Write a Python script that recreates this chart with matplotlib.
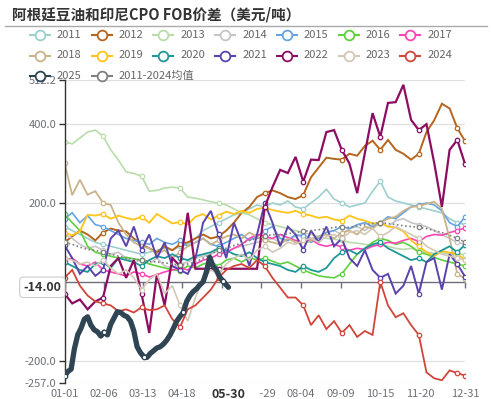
import numpy as np
import matplotlib
matplotlib.use('Agg')
import matplotlib.pyplot as plt
import matplotlib.transforms as mtransforms
from matplotlib.lines import Line2D
from matplotlib.patches import Rectangle

plt.rcParams['font.family'] = ['Noto Sans CJK SC', 'DejaVu Sans']

# ---------------- data ----------------
title = '阿根廷豆油和印尼CPO FOB价差（美元/吨）'
days_weekly = np.arange(0, 365, 7)            # 01-01 ... 12-31, weekly
days_2025 = list(range(0, 150, 3)) + [149]    # 01-01 ... 05-30

s2011 = [140, 130, 120, 110, 100, 95, 90, 85, 80, 75, 70, 75, 80, 85, 80, 90, 95, 110, 130, 140,
         150, 160, 170, 175, 185, 195, 190, 200, 195, 205, 190, 185, 200, 215, 235, 210, 200, 190, 195, 200,
         230, 255, 215, 205, 200, 195, 190, 185, 180, 175, 160, 150, 145]
s2012 = [100, 115, 130, 120, 105, 125, 135, 130, 128, 110, 95, 85, 75, 90, 80, 95, 100, 110, 120, 110,
         115, 130, 150, 175, 190, 215, 225, 232, 225, 215, 210, 220, 265, 290, 315, 312, 310, 325, 320, 345,
         358, 335, 360, 335, 325, 310, 325, 380, 410, 452, 440, 390, 357]
s2013 = [355, 350, 365, 380, 385, 370, 335, 309, 279, 275, 268, 230, 232, 238, 240, 238, 215, 212, 208, 203,
         200, 195, 185, 175, 170, 160, 150, 145, 140, 135, 130, 125, 120, 115, 110, 108, 105, 100, 98, 95,
         92, 95, 90, 85, 82, 85, 78, 75, 72, 74, 70, 72, 68]
s2014 = [120, 110, 95, 85, 90, 80, 70, 75, 60, 50, 55, 45, 60, 40, 35, 45, 50, 60, 65, 70,
         80, 75, 85, 90, 95, 100, 105, 110, 100, 105, 115, 120, 110, 115, 125, 130, 120, 135, 140, 130,
         145, 150, 140, 155, 160, 150, 145, 140, 130, 120, 110, 100, 95]
s2015 = [160, 175, 150, 168, 145, 140, 130, 120, 110, 105, 100, 95, 110, 100, 95, 105, 90, 100, 110, 95,
         90, 100, 110, 120, 105, 115, 130, 140, 110, 105, 120, 115, 100, 110, 125, 130, 140, 135, 145, 150,
         140, 150, 165, 160, 175, 190, 195, 200, 195, 180, 150, 140, 165]
s2016 = [172, 150, 130, 90, 75, 70, 65, 60, 62, 58, 55, 45, 40, 35, 30, 28, 40, 35, 45, 50,
         40, 55, 60, 50, 62, 55, 60, 52, 45, 50, 40, 30, 22, 15, 12, 10, 20, 45, 70, 85,
         100, 110, 105, 95, 100, 90, 75, 70, 62, 55, 50, 45, 40]
s2017 = [56, 60, 45, 40, 50, 30, 25, 20, 15, 25, 20, 12, 18, 25, 30, 35, 30, 45, 55, 60,
         70, 75, 85, 95, 110, 120, 115, 110, 120, 112, 105, 100, 108, 95, 90, 95, 88, 80, 85, 82,
         90, 95, 100, 98, 105, 110, 102, 115, 120, 118, 125, 130, 137]
s2018 = [302, 220, 259, 221, 230, 200, 195, 150, 120, 100, 90, 85, 70, 80, 60, 75, 90, 100, 110, 95,
         105, 115, 120, 110, 125, 115, 105, 100, 95, 110, 100, 95, 105, 115, 120, 110, 125, 130, 120, 140,
         135, 150, 160, 165, 180, 190, 192, 198, 203, 185, 110, 20, 8]
s2019 = [124, 118, 128, 170, 168, 172, 160, 168, 162, 158, 165, 150, 172, 160, 148, 152, 145, 165, 172, 158,
         168, 178, 172, 180, 175, 185, 188, 182, 178, 175, 180, 172, 168, 162, 165, 158, 155, 168, 160, 155,
         148, 150, 140, 138, 128, 105, 90, 75, 65, 78, 74, 70, 56]
s2020 = [50, 40, 30, 25, 45, 50, 35, 60, 55, 50, 40, 55, 65, 60, 70, 60, 55, 65, 70, 75,
         85, 80, 70, 65, 75, 60, 50, 45, 40, 30, 25, 40, 30, 25, 35, 60, 75, 80, 70, 85,
         95, 100, 85, 75, 65, 55, 60, 50, 70, 80, 90, 75, 94]
s2021 = [93, 60, 20, 40, 15, 30, 110, 130, 90, 140, 80, 120, 60, 100, 40, 30, 20, 60, 150, 180,
         120, 60, 150, 100, 40, 120, 200, 150, 90, 140, 120, 80, 130, 100, 140, 90, 110, 60, 40, 80,
         30, 10, 20, -30, -10, 40, -30, 50, 60, -20, 70, 45, 13]
s2022 = [-30, -55, -45, -70, -50, -40, 40, 60, 10, 55, -30, -130, 20, -60, 60, 40, 175, 33, 33, 33,
         33, 33, 33, 33, 33, 33, 190, 240, 284, 276, 317, 254, 310, 309, 380, 385, 335, 300, 225, 327,
         428, 368, 454, 456, 500, 411, 385, 400, 302, 190, 335, 360, 299]
s2023 = [60, 55, 45, 50, 40, 55, 35, 20, 30, 10, -20, 5, 20, -30, -10, -60, -100, -40, 10, 30,
         20, 45, 60, 70, 55, 80, 90, 75, 85, 100, 95, 105, 110, 100, 115, 120, 110, 125, 130, 120,
         135, 115, 125, 140, 130, 120, 110, 90, 80, 70, 65, 60, 55]
s2024 = [10, 30, -10, -35, -50, -55, -60, -75, -70, -78, -65, -72, -70, -60, -95, -115, -70, -60, -40, -20,
         10, 30, 40, 45, 35, 55, 40, 10, -15, -40, -40, -60, -110, -85, -120, -100, -130, -110, -140, -125,
         -135, 0, -60, -90, -80, -110, -135, -230, -245, -250, -225, -232, -238]
s_mean = [100, 95, 88, 82, 80, 75, 70, 65, 60, 58, 55, 52, 50, 48, 45, 42, 45, 50, 60, 70,
          80, 85, 92, 98, 105, 110, 115, 120, 118, 122, 125, 128, 130, 132, 135, 138, 140, 138, 142, 145,
          148, 150, 148, 145, 142, 140, 138, 135, 130, 125, 118, 110, 101]
s2025 = [-240, -228, -222, -170, -135, -118, -95, -89, -110, -122, -127, -138, -128, -135, -108, -92, -76, -78, -85, -89,
         -100, -125, -165, -180, -190, -192, -182, -175, -168, -165, -158, -148, -135, -118, -100, -88, -78, -50, -35, -25,
         -18, -8, 0, 25, 62, 40, 30, 12, 2, -8, -14]

hist_labels = ['2011', '2012', '2013', '2014', '2015', '2016', '2017', '2018', '2019', '2020',
               '2021', '2022', '2023', '2024']
hist_series = [s2011, s2012, s2013, s2014, s2015, s2016, s2017, s2018, s2019, s2020,
               s2021, s2022, s2023, s2024]
mean_label = '2011-2024均值'
cur_label = '2025'

tick_days = [0, 36, 71, 107, 143, 179, 215, 251, 287, 323, 364]
tick_labels = ['01-01', '02-06', '03-13', '04-18', '', '06-29', '08-04', '09-09', '10-15', '11-20', '12-31']
ytick_vals = [-257, -200, 200, 400, 512.2]
ytick_labels = ['-257.0', '-200.0', '200.0', '400.0', '512.2']
pointer_y = -14
pointer_y_label = '-14.00'
pointer_x_label = '05-30'

# ---------------- styles ----------------
hist_colors = ['#9dcfcf', '#b5651d', '#b9dcab', '#c6c6c6', '#66a4e0', '#5ed13f', '#ff45b5',
               '#c8b38a', '#ffc419', '#1e9898', '#5a43ad', '#8c0d62', '#d3c8b6', '#d2453a']
hist_lw = [1.2, 1.4, 1.2, 1.2, 1.2, 1.2, 1.2, 1.3, 1.3, 1.3, 1.4, 1.6, 1.2, 1.3]
mean_color = '#808080'
cur_color = '#2f4554'

W, H = 491, 399
fig = plt.figure(figsize=(W / 100, H / 100), dpi=100)
L, R, T, B = 64.5, 465, 80, 383
ax = fig.add_axes([L / W, 1 - B / H, (R - L) / W, (B - T) / H])
ax.set_xlim(0, 364)
ax.set_ylim(-257, 512.2)

for y in ytick_vals:
    ax.axhline(y, color='#e0e0e0', lw=0.9, zorder=0)
ax.axhline(0, color='#6e7079', lw=1.0, zorder=1)
ax.plot(tick_days, [0] * len(tick_days), ls='none', marker=3, ms=4, mew=1,
        color='#6e7079', zorder=1, clip_on=False)

mk_week = [0, 5, 10, 15, 20, 26, 31, 36, 41, 46, 51, 52]
for lab, vals, col, lw in zip(hist_labels, hist_series, hist_colors, hist_lw):
    ax.plot(days_weekly, vals, color=col, lw=lw, marker='o', ms=3.2, mfc='white',
            mec=col, mew=0.9, markevery=mk_week, zorder=2, solid_joinstyle='miter')
ax.plot(days_weekly, s_mean, color=mean_color, lw=1.2, ls=(0, (1, 1.5)), marker='o', ms=3.2,
        mfc='white', mec=mean_color, mew=0.9, markevery=mk_week, zorder=3)
ax.plot(days_2025, s2025, color=cur_color, lw=3.8, marker='o', ms=3.2, mfc='white',
        mec=cur_color, mew=0.9, markevery=[0, 12, 24, 36, 48], zorder=4,
        solid_joinstyle='round', solid_capstyle='round')

for s in ['top', 'right', 'bottom']:
    ax.spines[s].set_visible(False)
ax.spines['left'].set_color('#333333')
ax.spines['left'].set_linewidth(1.0)

ax.set_yticks(ytick_vals, ytick_labels)
ax.tick_params(axis='y', length=4, width=1, color='#333333', labelsize=8,
               labelcolor='#6e7079', pad=2)
ax.set_xticks(tick_days, tick_labels)
ax.tick_params(axis='x', length=0, pad=4.5, labelsize=8, labelcolor='#6e7079')

# axis pointer labels
trans = mtransforms.blended_transform_factory(ax.transAxes, ax.transData)
ax.text(-0.008, pointer_y, pointer_y_label, transform=trans, ha='right', va='center',
        fontsize=9, fontweight='bold', color='#333333', zorder=10, clip_on=False,
        bbox=dict(boxstyle='round,pad=0.3', fc='white', ec='#cccccc', lw=0.8))
fig.add_artist(Rectangle((197 / W, 0), 63 / W, 12.5 / H, transform=fig.transFigure,
                         fc='white', ec='none', zorder=5))
fig.text(228 / W, 1 - 394 / H, pointer_x_label, ha='center', va='center', fontsize=9,
         fontweight='bold', color='#333333', zorder=6)

# title
fig.text(12 / W, 1 - 14 / H, title, ha='left', va='center', fontsize=10.5,
         fontweight='bold', color='#333333')
fig.add_artist(Line2D([5 / W, 487 / W], [1 - 26 / H] * 2, color='#aaaaaa', lw=1.0))

# legend
leg_labels = hist_labels + [cur_label, mean_label]
leg_colors = hist_colors + [cur_color, mean_color]
for i, (lab, col) in enumerate(zip(leg_labels, leg_colors)):
    r, c = divmod(i, 7)
    cx = 40 + c * 61.7
    cy = 35 + r * 20.5
    fig.add_artist(Line2D([(cx - 10) / W, (cx + 10) / W], [1 - cy / H] * 2, color=col, lw=1.5, zorder=7))
    fig.add_artist(Line2D([cx / W], [1 - cy / H], marker='o', ms=7, mfc='white', mec=col,
                          mew=1.3, ls='none', zorder=8))
    fig.text((cx + 17) / W, 1 - cy / H, lab, ha='left', va='center', fontsize=8,
             color='#666666', zorder=8)

fig.savefig('out.png', dpi=100)
